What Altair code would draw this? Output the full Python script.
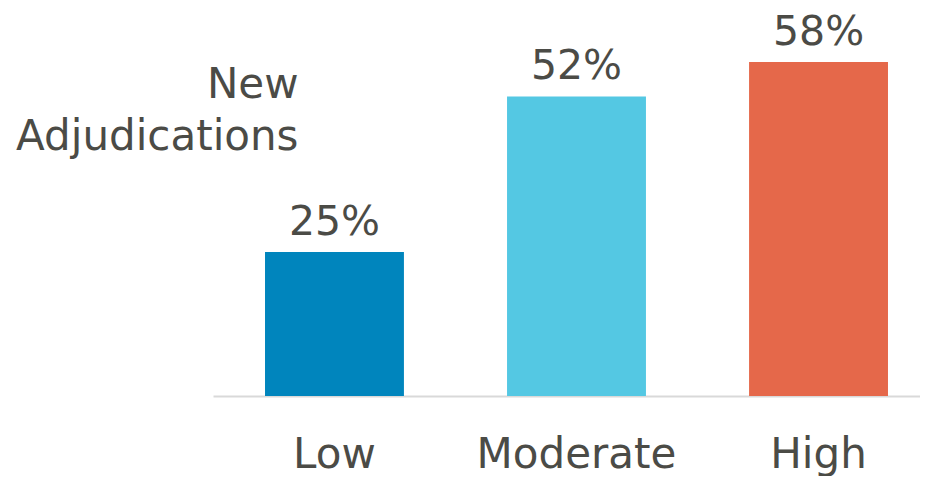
import altair as alt
import pandas as pd

categories = ["Low", "Moderate", "High"]
values = [0.25, 0.52, 0.58]
colors = ["#0085BD", "#54C8E3", "#E5684A"]
labels = ["25%", "52%", "58%"]

df = pd.DataFrame({"cat": categories, "val": values, "lab": labels})

FONT = "DejaVu Sans"
TXT = "#4B4B46"

x = alt.X("cat:N", sort=categories, title=None,
          scale=alt.Scale(paddingInner=0.426, paddingOuter=0.1736, align=0.619),
          axis=alt.Axis(labelAngle=0, ticks=False, labelPadding=38, labelFontSize=42,
                        labelFont=FONT, labelColor=TXT, domainColor="#D9D9D9",
                        labelLimit=0, domainWidth=2, grid=False))
y = alt.Y("val:Q", scale=alt.Scale(domain=[0, 0.6], nice=False),
          title=["New", "Adjudications"],
          axis=alt.Axis(labels=False, ticks=False, domain=False, grid=False,
                        titleAngle=0, titleAlign="right", titleBaseline="alphabetic",
                        titleX=85, titleY=46.6, titleFontSize=42, titleFont=FONT,
                        titleLimit=0,
                        titleFontWeight="normal", titleColor=TXT, titleLineHeight=52))

bars = alt.Chart(df).mark_bar().encode(
    x=x, y=y,
    color=alt.Color("cat:N", scale=alt.Scale(domain=categories, range=colors), legend=None),
)
text = alt.Chart(df).mark_text(baseline="alphabetic", dy=-17, fontSize=41, font=FONT,
                               color=TXT).encode(
    x=alt.X("cat:N", sort=categories), y="val:Q", text="lab:N")

chart = alt.layer(bars, text).properties(
    width=707, height=345.6,
    autosize=alt.AutoSizeParams(type="none"),
    padding={"left": 205, "top": 42.4, "right": 0, "bottom": 80},
).configure_view(stroke=None)

chart.save("out.html", embed_options={"renderer": "svg", "actions": False})
